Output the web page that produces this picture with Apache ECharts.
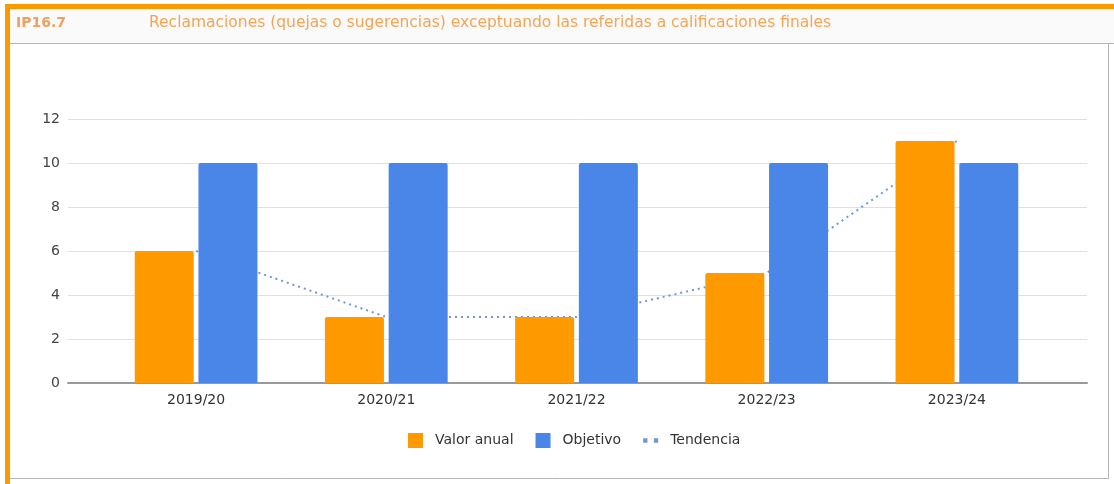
<!DOCTYPE html>
<html>
<head>
<meta charset="utf-8">
<script src="https://cdn.jsdelivr.net/npm/echarts@6/dist/echarts.min.js"></script>
<style>
  html, body { margin: 0; padding: 0; background: #fff; }
  #chart { width: 1114px; height: 484px; }
</style>
</head>
<body>
<div id="chart"></div>
<script>
// datos
const categories = ['2019/20', '2020/21', '2021/22', '2022/23', '2023/24']
const valorAnual = [6, 3, 3, 5, 11]
const objetivo = [10, 10, 10, 10, 10]
const tendencia = [6, 3, 3, 5, 11]
const yTicks = { min: 0, max: 12, interval: 2 }

const chart = echarts.init(document.getElementById('chart'), null, { renderer: 'canvas' })

const font = '"DejaVu Sans", sans-serif'
const trendColor = '#7096d6'

const option = {
  animation: false,
  title: [
    {
      text: 'IP16.7',
      left: 11,
      top: 11,
      textStyle: { color: '#eda060', fontSize: 14, fontWeight: 'bold', fontFamily: font }
    },
    {
      text: 'Reclamaciones (quejas o sugerencias) exceptuando las referidas a calificaciones finales',
      left: 144,
      top: 10,
      textStyle: { color: '#f5a452', fontSize: 15.5, fontWeight: 'normal', fontFamily: font }
    }
  ],
  legend: {
    data: [
      { name: 'Valor anual', icon: 'rect' },
      { name: 'Objetivo', icon: 'rect' },
      { name: 'Tendencia', icon: 'path://M0,0h4v4h-4z M10,0h4v4h-4z' }
    ],
    left: 403,
    top: 428,
    itemWidth: 15,
    itemHeight: 15,
    itemGap: 22,
    textStyle: { color: '#333', fontSize: 14, fontFamily: font, padding: [0, 0, 0, 7] }
  },
  grid: [
    // grid de fondo: lineas de referencia y eje base
    { left: 68, right: 27, top: 119, bottom: 101 },
    // grid de las barras
    { left: 101, right: 62, top: 119, bottom: 101 }
  ],
  xAxis: [
    {
      gridIndex: 0,
      type: 'value',
      min: 0,
      max: 1,
      axisLine: { show: true, lineStyle: { color: '#999', width: 2 } },
      axisTick: { show: false },
      axisLabel: { show: false },
      splitLine: { show: false }
    },
    {
      gridIndex: 1,
      type: 'category',
      data: categories,
      axisLine: { show: false },
      axisTick: { show: false },
      axisLabel: { color: '#333', fontSize: 14, fontFamily: font, margin: 10 }
    }
  ],
  yAxis: [
    {
      gridIndex: 0,
      type: 'value',
      min: yTicks.min,
      max: yTicks.max,
      interval: yTicks.interval,
      axisLine: { show: false },
      axisTick: { show: false },
      axisLabel: { color: '#444', fontSize: 14, fontFamily: font, margin: 8 },
      splitLine: { lineStyle: { color: '#e0e0e0', width: 1 } }
    },
    {
      gridIndex: 1,
      type: 'value',
      min: yTicks.min,
      max: yTicks.max,
      interval: yTicks.interval,
      show: false
    }
  ],
  series: [
    {
      name: 'Tendencia',
      type: 'line',
      xAxisIndex: 1,
      yAxisIndex: 1,
      data: tendencia,
      symbol: 'none',
      z: 1,
      itemStyle: { color: trendColor },
      lineStyle: { color: trendColor, width: 2, type: [2, 4] }
    },
    {
      name: 'Valor anual',
      type: 'bar',
      xAxisIndex: 1,
      yAxisIndex: 1,
      data: valorAnual,
      barWidth: 59,
      barGap: '8%',
      z: 3,
      itemStyle: { color: '#ff9900', borderRadius: [2, 2, 0, 0] }
    },
    {
      name: 'Objetivo',
      type: 'bar',
      xAxisIndex: 1,
      yAxisIndex: 1,
      data: objetivo,
      barWidth: 59,
      z: 3,
      itemStyle: { color: '#4a86e8', borderRadius: [2, 2, 0, 0] }
    }
  ],
  graphic: [
    // banda del titulo
    { type: 'rect', shape: { x: 10, y: 9, width: 1104, height: 34 }, style: { fill: '#fafafa' }, z: -10 },
    // marco naranja
    { type: 'rect', shape: { x: 5, y: 4, width: 1109, height: 5 }, style: { fill: '#ff9900' }, z: 10 },
    { type: 'rect', shape: { x: 5, y: 4, width: 5, height: 480 }, style: { fill: '#ff9900' }, z: 10 },
    // marco gris
    { type: 'line', shape: { x1: 10, y1: 43.5, x2: 1114, y2: 43.5 }, style: { stroke: '#b5b5b5', lineWidth: 1 }, z: 10 },
    { type: 'line', shape: { x1: 1108.5, y1: 43, x2: 1108.5, y2: 479 }, style: { stroke: '#b5b5b5', lineWidth: 1 }, z: 10 },
    { type: 'line', shape: { x1: 10, y1: 478.5, x2: 1109, y2: 478.5 }, style: { stroke: '#b5b5b5', lineWidth: 1 }, z: 10 }
  ]
}

chart.setOption(option)
</script>
</body>
</html>
